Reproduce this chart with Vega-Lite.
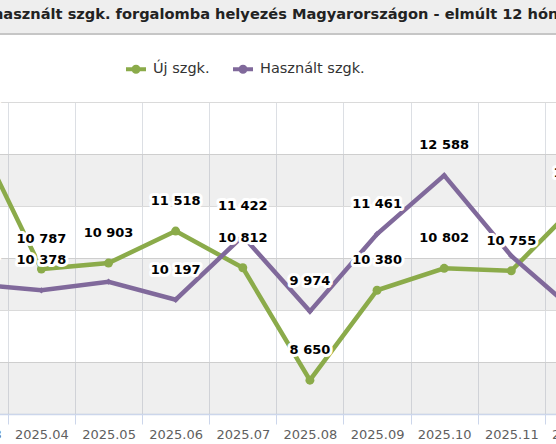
{
  "$schema": "https://vega.github.io/schema/vega-lite/v6.json",
  "autosize": {"type": "none"},
  "width": 556,
  "height": 312,
  "padding": {"top": 102, "bottom": 30, "left": 0, "right": 0},
  "background": "white",
  "title": {
    "text": "Új és használt szgk. forgalomba helyezés Magyarországon - elmúlt 12 hónap",
    "font": "DejaVu Sans",
    "fontSize": 14.6,
    "fontWeight": "bold",
    "color": "#222222",
    "anchor": "middle",
    "baseline": "middle",
    "dx": -15,
    "offset": -30
  },
  "datasets": {
    "savok": [
      {"tol": 8000, "ig": 9000},
      {"tol": 10000, "ig": 11000},
      {"tol": 12000, "ig": 13000}
    ]
  },
  "data": {
    "values": [
      {"honap": "2025.03", "sorozat": "Új szgk.", "db": 13449},
      {"honap": "2025.04", "sorozat": "Új szgk.", "db": 10787},
      {"honap": "2025.05", "sorozat": "Új szgk.", "db": 10903},
      {"honap": "2025.06", "sorozat": "Új szgk.", "db": 11518},
      {"honap": "2025.07", "sorozat": "Új szgk.", "db": 10812},
      {"honap": "2025.08", "sorozat": "Új szgk.", "db": 8650},
      {"honap": "2025.09", "sorozat": "Új szgk.", "db": 10380},
      {"honap": "2025.10", "sorozat": "Új szgk.", "db": 10802},
      {"honap": "2025.11", "sorozat": "Új szgk.", "db": 10755},
      {"honap": "2025.12", "sorozat": "Új szgk.", "db": 12062},
      {"honap": "2025.03", "sorozat": "Használt szgk.", "db": 10501},
      {"honap": "2025.04", "sorozat": "Használt szgk.", "db": 10378},
      {"honap": "2025.05", "sorozat": "Használt szgk.", "db": 10544},
      {"honap": "2025.06", "sorozat": "Használt szgk.", "db": 10197},
      {"honap": "2025.07", "sorozat": "Használt szgk.", "db": 11422},
      {"honap": "2025.08", "sorozat": "Használt szgk.", "db": 9974},
      {"honap": "2025.09", "sorozat": "Használt szgk.", "db": 11461},
      {"honap": "2025.10", "sorozat": "Használt szgk.", "db": 12588},
      {"honap": "2025.11", "sorozat": "Használt szgk.", "db": 11040},
      {"honap": "2025.12", "sorozat": "Használt szgk.", "db": 9920}
    ]
  },
  "layer": [
    {
      "data": {"name": "savok"},
      "mark": {"type": "rect", "fill": "#7f7f7f", "fillOpacity": 0.12},
      "encoding": {
        "y": {"field": "tol", "type": "quantitative", "scale": {"domain": [8000, 14000], "nice": false, "zero": false}, "axis": {"labels": false, "ticks": false, "domain": false, "title": null, "grid": true, "gridColor": "#dadada", "values": [8000, 9000, 10000, 11000, 12000, 13000, 14000]}},
        "y2": {"field": "ig"}
      }
    },
    {
      "data": {"values": [{}]},
      "mark": {"type": "rect", "fill": "#eeeeee"},
      "encoding": {"y": {"datum": 15327, "type": "quantitative"}, "y2": {"datum": 15961}}
    },
    {
      "data": {"values": [{}]},
      "mark": {"type": "rect", "fill": "#c6c6c6"},
      "encoding": {"y": {"datum": 15288, "type": "quantitative"}, "y2": {"datum": 15327}}
    },
    {
      "encoding": {
        "x": {
          "field": "honap",
          "type": "ordinal",
          "scale": {"type": "band", "range": [-59.3, 612], "paddingInner": 0, "paddingOuter": 0},
          "axis": {
            "title": null,
            "labelAngle": 0,
            "labelFont": "DejaVu Sans",
            "labelFontSize": 13,
            "labelColor": "#606060",
            "labelPadding": 4,
            "tickBand": "extent",
            "tickColor": "#ccd6eb",
            "tickSize": 10,
            "domainColor": "#ccd6eb",
            "domainWidth": 1.5,
            "grid": true,
            "gridColor": "#dcdfe4"
          }
        },
        "y": {"field": "db", "type": "quantitative"},
        "color": {
          "field": "sorozat",
          "type": "nominal",
          "scale": {"domain": ["Új szgk.", "Használt szgk."], "range": ["#8bab4a", "#80699b"]},
          "legend": {
            "orient": "none",
            "legendX": 124,
            "legendY": -45,
            "direction": "horizontal",
            "title": null,
            "labelFont": "DejaVu Sans",
            "labelFontSize": 14.5,
            "labelColor": "#333333",
            "symbolSize": 400,
            "columnPadding": 15,
            "labelOffset": 5,
            "symbolStrokeWidth": 4,
            "symbolType": "M-1,0H1M-0.25,0A0.25,0.25 0 1,0 0.25,0A0.25,0.25 0 1,0 -0.25,0Z",
            "encode": {
              "symbols": {
                "update": {
                  "shape": {"condition": {"test": "datum.value === 'Használt szgk.'", "value": "M-1,0H1M0,-0.2L0.2,0L0,0.2L-0.2,0Z"}, "value": "M-1,0H1M-0.25,0A0.25,0.25 0 1,0 0.25,0A0.25,0.25 0 1,0 -0.25,0Z"},
                  "fill": {"condition": {"test": "datum.value === 'Használt szgk.'", "value": "#80699b"}, "value": "#8bab4a"},
                  "fillOpacity": {"value": 1}
                }
              }
            }
          }
        }
      },
      "layer": [
        {
          "mark": {"type": "line", "strokeWidth": 4.5, "strokeJoin": "miter"}
        },
        {
          "transform": [{"filter": "datum.sorozat === 'Új szgk.'"}],
          "mark": {"type": "point", "shape": "circle", "filled": true, "opacity": 1, "size": 80}
        },
        {
          "transform": [{"filter": "datum.sorozat === 'Használt szgk.'"}],
          "mark": {"type": "point", "shape": "diamond", "filled": true, "opacity": 1, "size": 40}
        },
        {
          "transform": [{"filter": "!(datum.sorozat === 'Használt szgk.' && (datum.honap === '2025.05' || datum.honap === '2025.11'))"}],
          "mark": {"type": "text", "font": "DejaVu Sans", "fontSize": 13, "fontWeight": "bold", "dy": -30, "fill": "white", "stroke": "white", "strokeWidth": 6, "strokeJoin": "round"},
          "encoding": {"text": {"field": "db", "type": "quantitative", "format": ",d"}, "color": {"value": "white"}}
        },
        {
          "transform": [{"filter": "!(datum.sorozat === 'Használt szgk.' && (datum.honap === '2025.05' || datum.honap === '2025.11'))"}],
          "mark": {"type": "text", "font": "DejaVu Sans", "fontSize": 13, "fontWeight": "bold", "dy": -30},
          "encoding": {"text": {"field": "db", "type": "quantitative", "format": ",d"}, "color": {"value": "#000000"}}
        }
      ]
    }
  ],
  "config": {
    "locale": {"number": {"decimal": ",", "thousands": " ", "grouping": [3], "currency": ["", " Ft"]}},
    "view": {"stroke": null}
  }
}
